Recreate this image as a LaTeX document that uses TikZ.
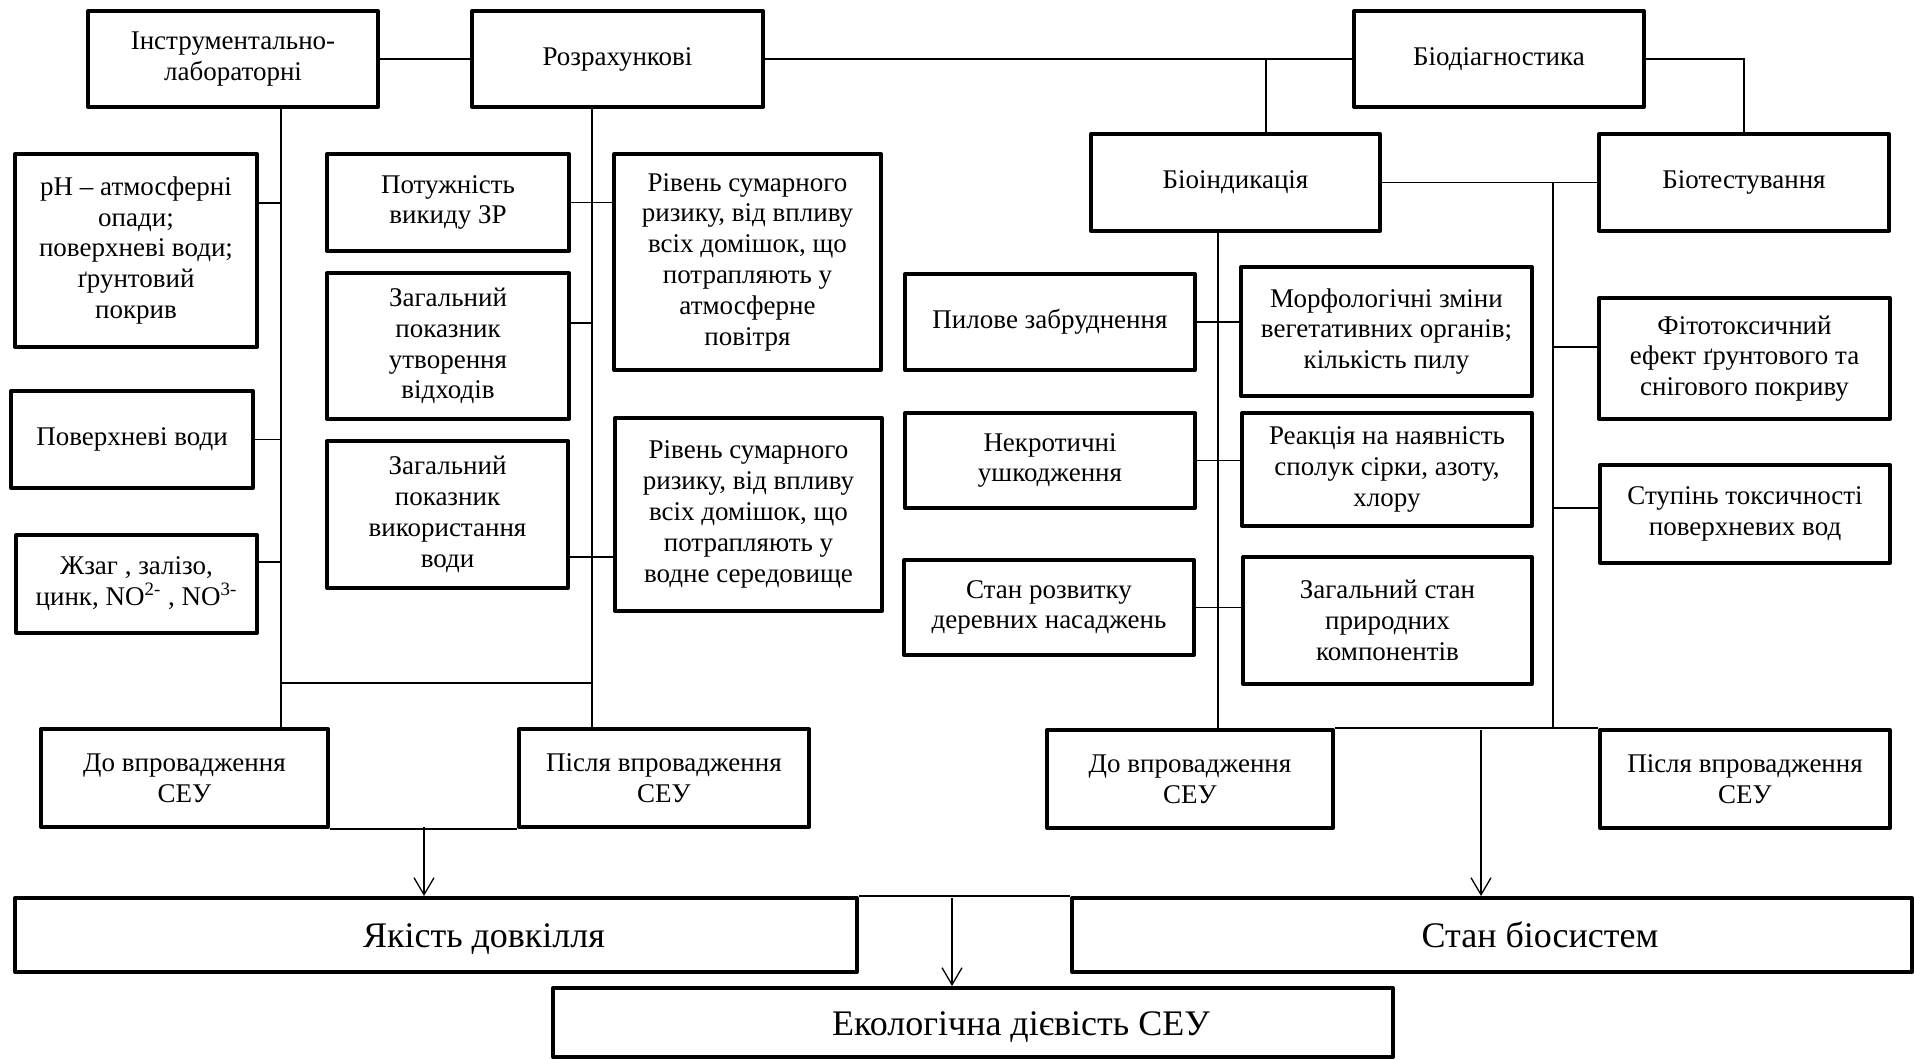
\documentclass[tikz,border=0pt]{standalone}
\usepackage{fontspec}
\setmainfont{Liberation Serif}
\usetikzlibrary{arrows.meta}

\begin{document}
\begin{tikzpicture}[x=0.5pt,y=-0.5pt,
  box/.style 2 args={draw, line width=2pt, line join=round, inner sep=0pt,
    align=center, minimum width=#1*0.5pt, minimum height=#2*0.5pt,
    font=\fontsize{13.5}{15.4}\selectfont},
  bigbox/.style 2 args={box={#1}{#2}, font=\fontsize{18}{20}\selectfont,
    text height=12.5pt, text depth=0pt},
  link/.style={line width=0.65pt},
  arr/.style={link, -{Straight Barb[length=8.5pt,width=10pt,line width=0.65pt]}}]
\useasboundingbox (0,0) rectangle (1914,1059);

% top level: methods
\node[box={290}{96}] (instr) at (233,59) {Інструментально-\\лабораторні};
\node[box={291}{96}] (rozr) at (617.5,59) {Розрахункові};
\node[box={290}{96}] (biodiag) at (1499,59) {Біодіагностика};
\node[box={289}{97}] (bioind) at (1235.5,182.5) {Біоіндикація};
\node[box={290}{97}] (biotest) at (1744,182.5) {Біотестування};

% instrumental-laboratory indicators
\node[box={242}{193}] (ph) at (136,250.5) {pH – атмосферні\\опади;\\поверхневі води;\\ґрунтовий\\покрив};
\node[box={242}{97}] (pov) at (132,439.5) {Поверхневі води};
\node[box={241}{98}] (zhzag) at (136.5,584) {Жзаг , залізо,\\цинк, NO\textsuperscript{2-} , NO\textsuperscript{3-}};

% calculated indicators
\node[box={242}{97}] (potuzh) at (448,202.5) {Потужність\\викиду ЗР};
\node[box={242}{146}] (vidkh) at (448,346) {Загальний\\показник\\утворення\\відходів};
\node[box={241}{147}] (vodu) at (447.5,514.5) {Загальний\\показник\\використання\\води};
\node[box={267}{216}] (riv1) at (747.5,262) {Рівень сумарного\\ризику, від впливу\\всіх домішок, що\\потрапляють у\\атмосферне\\повітря};
\node[box={267}{193}] (riv2) at (748.5,514.5) {Рівень сумарного\\ризику, від впливу\\всіх домішок, що\\потрапляють у\\водне середовище};

% bioindication
\node[box={290}{96}] (pyl) at (1050,322) {Пилове забруднення};
\node[box={291}{129}] (morf) at (1386.5,331.5) {Морфологічні зміни\\вегетативних органів;\\кількість пилу};
\node[box={290}{95}] (nekr) at (1050,460.5) {Некротичні\\ушкодження};
\node[box={290}{113}] (reak) at (1387,469.5) {Реакція на наявність\\сполук сірки, азоту,\\хлору};
\node[box={290}{95}] (rozv) at (1049,607.5) {Стан розвитку\\деревних насаджень};
\node[box={289}{127}] (zagst) at (1387.5,620.5) {Загальний стан\\природних\\компонентів};

% biotesting
\node[box={291}{121}] (fito) at (1744.5,358.5) {Фітотоксичний\\ефект ґрунтового та\\снігового покриву};
\node[box={290}{98}] (stup) at (1745,514) {Ступінь токсичності\\поверхневих вод};

% before / after
\node[box={287}{98}] (do1) at (184.5,778) {До впровадження\\СЕУ};
\node[box={290}{98}] (pis1) at (664,778) {Після впровадження\\СЕУ};
\node[box={286}{98}] (do2) at (1190,779) {До впровадження\\СЕУ};
\node[box={290}{98}] (pis2) at (1745,779) {Після впровадження\\СЕУ};

% results (labels sit right of centre, as set with a first-line indent)
\node[bigbox={842}{74}] (yak) at (436,935) {\hspace*{48pt}Якість довкілля};
\node[bigbox={840}{74}] (stan) at (1492,935) {\hspace*{48pt}Стан біосистем};
\node[bigbox={840}{69}] (eko) at (973,1022.5) {\hspace*{48pt}Екологічна дієвість СЕУ};

% junction points
\coordinate (jbd) at (1266,59);
\coordinate (tl1) at (281,107);
\coordinate (tl2) at (592,107);
\coordinate (tbi) at (1218,231);
\coordinate (tbt) at (1553,182.5);
\coordinate (jph) at (281,203);
\coordinate (jzh) at (281,562);
\coordinate (jvid) at (592,323);
\coordinate (jvod) at (592,557);
\coordinate (jmid) at (281,683);
\coordinate (jfi) at (1553,347);
\coordinate (jst) at (1553,508);
\coordinate (jl) at (424,827);
\coordinate (jr) at (1481,730);
\coordinate (jb) at (952,898);

% top connections
\draw[link] (instr.east) -- (rozr.west);
\draw[link] (rozr.east) -- (biodiag.west);
\draw[link] (jbd) -- (jbd |- bioind.north);
\draw[link] (biodiag.east) -| (biotest.north);
\draw[link] (bioind.east) -- (biotest.west);

% left trunks
\draw[link] (tl1) -- (tl1 |- do1.north);
\draw[link] (tl2) -- (tl2 |- pis1.north);
\draw[link] (jph -| ph.east) -- (jph);
\draw[link] (pov.east) -- (pov.east -| tl1);
\draw[link] (jzh -| zhzag.east) -- (jzh);
\draw[link] (potuzh.east) -- (potuzh.east -| riv1.west);
\draw[link] (jvid -| vidkh.east) -- (jvid);
\draw[link] (jvod -| vodu.east) -- (jvod -| riv2.west);
\draw[link] (jmid) -- (jmid -| tl2);
\draw[link] (do1.south east) -- (pis1.south west);
\draw[arr] (jl) -- (jl |- yak.north);

% bioindication trunk
\draw[link] (tbi) -- (tbi |- do2.north);
\draw[link] (pyl.east) -- (pyl.east -| morf.west);
\draw[link] (nekr.east) -- (nekr.east -| reak.west);
\draw[link] (rozv.east) -- (rozv.east -| zagst.west);

% biotesting trunk
\draw[link] (tbt) -- (tbt |- pis2.north);
\draw[link] (jfi) -- (jfi -| fito.west);
\draw[link] (jst) -- (jst -| stup.west);
\draw[link] (do2.north east) -- (pis2.north west);
\draw[arr] (jr) -- (jr |- stan.north);

% final result
\draw[link] (yak.north east) -- (stan.north west);
\draw[arr] (jb) -- (jb |- eko.north);
\end{tikzpicture}
\end{document}
